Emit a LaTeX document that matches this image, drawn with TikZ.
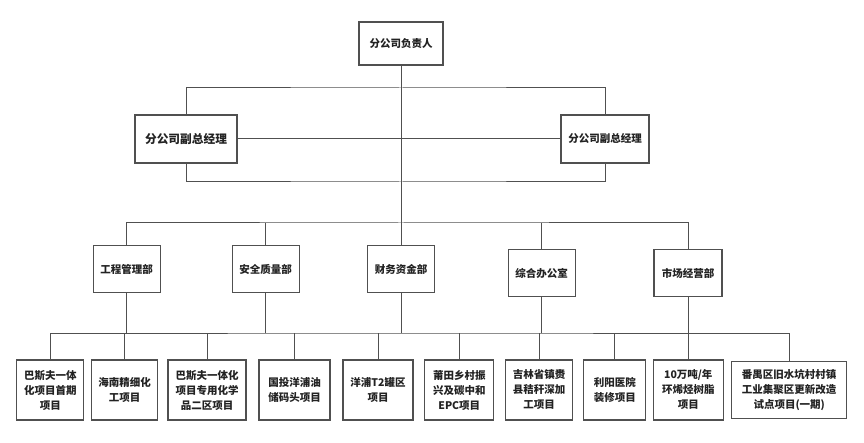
\documentclass[tikz,border=0pt]{standalone}
\usepackage{fontspec}
\newfontfamily\cjkfont{Noto Sans CJK SC}
\usepackage{tikz}
\definecolor{orgline}{HTML}{505050}
\definecolor{orgtext}{HTML}{222222}

\begin{document}
\begin{tikzpicture}[x=1pt, y=-1pt,
  unit/.style={draw=orgline, line width=1.1pt, fill=white, align=center, inner sep=1pt,
    text=orgtext, font=\cjkfont\bfseries\fontsize{10.5}{15}\selectfont},
  dept/.style={unit, minimum width=67pt, minimum height=47.5pt},
  proj/.style={unit, minimum height=60pt},
  link/.style={draw=orgline, line width=1pt}]
\useasboundingbox (0,0) rectangle (864,443);

\node[unit, minimum width=84pt, minimum height=43pt] (head) at (401,43.5) {分公司负责人};
\node[unit, minimum width=102pt, minimum height=48pt, font=\cjkfont\bfseries\fontsize{11.7}{14}\selectfont] (vpl) at (186,139) {分公司副总经理};
\node[unit, minimum width=88pt, minimum height=48pt] (vpr) at (605,139) {分公司副总经理};

\node[dept] (d1) at (126.7,269) {工程管理部};
\node[dept] (d2) at (265.7,269) {安全质量部};
\node[dept] (d3) at (401,269) {财务资金部};
\node[dept] (d4) at (541.7,273) {综合办公室};
\node[dept, minimum width=68pt] (d5) at (688,273) {市场经营部};

\node[proj, minimum width=67pt] (p1) at (50.4,390) {巴斯夫一体\\化项目首期\\项目};
\node[proj, minimum width=66pt] (p2) at (124.7,390) {海南精细化\\工项目};
\node[proj, minimum width=78pt] (p3) at (207,390) {巴斯夫一体化\\项目专用化学\\品二区项目};
\node[proj, minimum width=71pt] (p4) at (294.5,390) {国投洋浦油\\储码头项目};
\node[proj, minimum width=70pt] (p5) at (378,390) {洋浦T2罐区\\项目};
\node[proj, minimum width=69pt] (p6) at (459.3,390) {莆田乡村振\\兴及碳中和\\EPC项目};
\node[proj, minimum width=67pt] (p7) at (539,390) {吉林省镇赉\\县秸秆深加\\工项目};
\node[proj, minimum width=62pt] (p8) at (614.8,390) {利阳医院\\装修项目};
\node[proj, minimum width=70pt] (p9) at (688.3,390) {10万吨/年\\环烯烃树脂\\项目};
\node[proj, minimum width=115pt, minimum height=57pt] (p10) at (789.2,390) {番禺区旧水坑村村镇\\工业集聚区更新改造\\试点项目(一期)};

\coordinate (looptop) at (401,88);
\coordinate (loopbot) at (401,182);
\coordinate (deptbus) at (401,223);
\coordinate (projbus) at (401,333);

\begin{scope}[on background layer/.try]
\draw[link] (vpl.north) |- (looptop) -| (vpr.north);
\draw[link] (vpl.south) |- (loopbot) -| (vpr.south);
\draw[link] (vpl) -- (vpr);
\draw[link] (head.south) -- (deptbus);
\draw[link] (d1.north) |- (deptbus) -| (d5.north);
\foreach \d in {2,3,4}
  \draw[link] (d\d.north) -- (d\d.north |- deptbus);
\foreach \d in {1,...,5}
  \draw[link] (d\d.south) -- (d\d.south |- projbus);
\draw[link] (p1.north) |- (projbus) -| (p10.north);
\foreach \p in {2,...,9}
  \draw[link] (p\p.north) -- (p\p.north |- projbus);
\end{scope}
\end{tikzpicture}
\end{document}
